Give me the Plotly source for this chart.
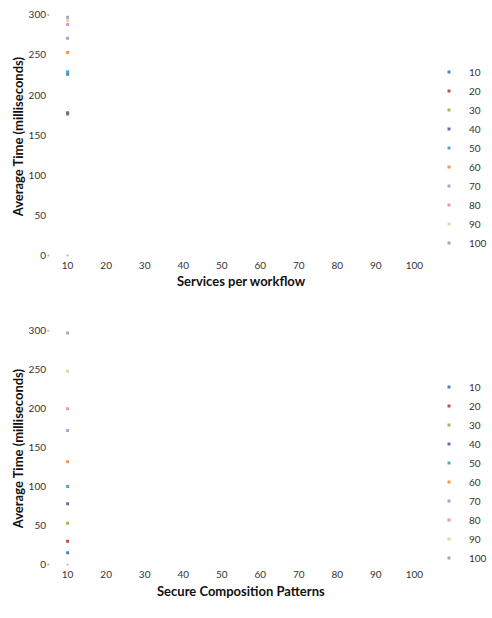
import plotly.graph_objects as go

W, H = 492, 618

series_names = ["10", "20", "30", "40", "50", "60", "70", "80", "90", "100"]
colors = ["#4F81BD", "#C0504D", "#9BBB59", "#8064A2", "#4BACC6",
          "#F79646", "#A0A9D4", "#E39AAE", "#D4DDA8", "#A3A7C2"]

x_category = 10
services_time = [226, 178, 176, 177, 229, 253, 271, 288, 293, 297]
patterns_time = [15, 30, 53, 78, 100, 132, 172, 200, 248, 297]

stray_x = [5, 5, 10]
stray_y = [300, 0, 0]

x_ticks = [10, 20, 30, 40, 50, 60, 70, 80, 90, 100]
y_ticks = [0, 50, 100, 150, 200, 250, 300]

fig = go.Figure()

def px_x(p):
    return p / W

def px_y(p):
    return 1 - p / H

for i, name in enumerate(series_names):
    fig.add_trace(go.Scatter(
        x=[x_category], y=[services_time[i]], mode="markers", name=name,
        marker=dict(symbol="square", size=3, color=colors[i]),
        xaxis="x", yaxis="y", legend="legend"))
for i, name in enumerate(series_names):
    fig.add_trace(go.Scatter(
        x=[x_category], y=[patterns_time[i]], mode="markers", name=name,
        marker=dict(symbol="square", size=3, color=colors[i]),
        xaxis="x2", yaxis="y2", legend="legend2"))

for xa, ya in (("x", "y"), ("x2", "y2")):
    fig.add_trace(go.Scatter(
        x=stray_x, y=stray_y, mode="markers", showlegend=False,
        marker=dict(symbol="square", size=2, color="#BBBBBB"),
        xaxis=xa, yaxis=ya))

tickfont = dict(family="Lato, Open Sans, sans-serif", size=10, color="#333333")
ax_common = dict(showgrid=False, zeroline=False, showline=False, ticks="",
                 tickfont=tickfont)

x_range = [10 + (48 - 69) / 3.933, 10 + (440 - 69) / 3.933]

legend_font = dict(family="Lato, Open Sans, sans-serif", size=10, color="#333333")

fig.update_layout(
    width=W, height=H,
    margin=dict(l=0, r=0, t=0, b=0),
    paper_bgcolor="white", plot_bgcolor="white",
    xaxis=dict(domain=[px_x(48), px_x(440)], range=x_range,
               tickvals=x_ticks, anchor="y", **ax_common),
    yaxis=dict(domain=[px_y(258), px_y(8)],
               range=[(255 - 258) / 0.81, (255 - 8) / 0.81],
               tickvals=y_ticks, anchor="x", **ax_common),
    xaxis2=dict(domain=[px_x(48), px_x(440)], range=x_range,
                tickvals=x_ticks, anchor="y2", **ax_common),
    yaxis2=dict(domain=[px_y(570), px_y(327)],
                range=[(567 - 570) / 0.7867, (567 - 327) / 0.7867],
                tickvals=y_ticks, anchor="x2", **ax_common),
    legend=dict(x=px_x(438), y=px_y(55), xanchor="left", yanchor="top",
                font=legend_font, bgcolor="rgba(0,0,0,0)", tracegroupgap=0),
    legend2=dict(x=px_x(438), y=px_y(373), xanchor="left", yanchor="top",
                 font=legend_font, bgcolor="rgba(0,0,0,0)", tracegroupgap=0),
    showlegend=True,
)

title_font = dict(family="Lato, Open Sans, sans-serif", size=13, color="#111111")

def ann(text, x, y, angle=0):
    return dict(text=text, x=px_x(x), y=px_y(y), textangle=angle,
                xanchor="center", yanchor="middle", showarrow=False,
                font=title_font, xref="paper", yref="paper")

annotations = [
    ann("<b>Average Time (milliseconds)</b>", 18, 135, -90),
    ann("<b>Average Time (milliseconds)</b>", 18, 450, -90),
    ann("<b>Services per workflow</b>", 246, 281),
    ann("<b>Secure Composition Patterns</b>", 246, 594),
]
fig.update_layout(annotations=annotations)

fig.write_html("out.html")
